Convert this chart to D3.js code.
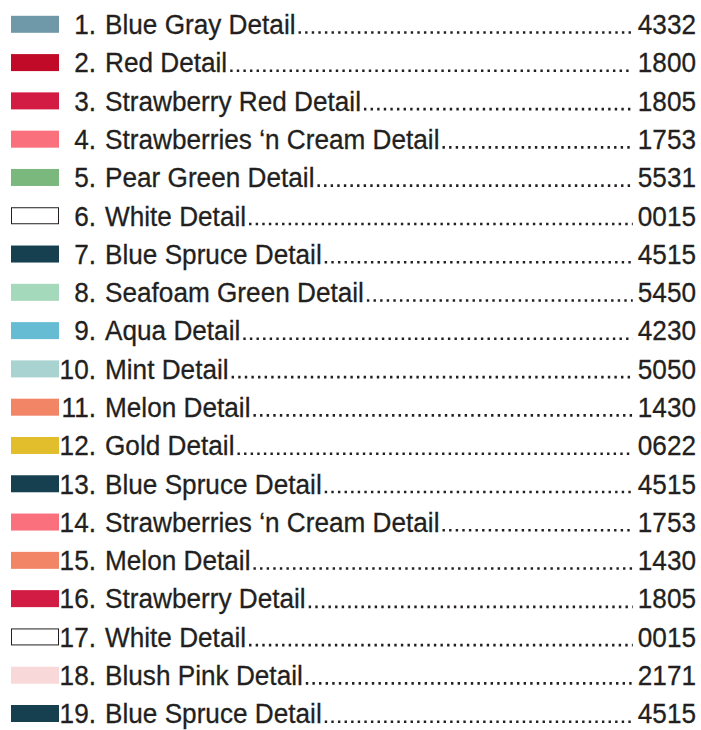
<!DOCTYPE html>
<html>
<head>
<meta charset="utf-8">
<script src="https://cdn.jsdelivr.net/npm/d3@7"></script>
<style>
  body { margin: 0; background: #fff; }
  text { font-family: "Liberation Sans", Arial, sans-serif; fill: #231f20; stroke: #231f20; stroke-width: 0.3px; }
</style>
</head>
<body>
<svg id="chart"></svg>
<script>
// colour key data
const names = [
  'Blue Gray Detail', 'Red Detail', 'Strawberry Red Detail', 'Strawberries \u2018n Cream Detail',
  'Pear Green Detail', 'White Detail', 'Blue Spruce Detail', 'Seafoam Green Detail',
  'Aqua Detail', 'Mint Detail', 'Melon Detail', 'Gold Detail', 'Blue Spruce Detail',
  'Strawberries \u2018n Cream Detail', 'Melon Detail', 'Strawberry Detail', 'White Detail',
  'Blush Pink Detail', 'Blue Spruce Detail'
];
const codes = [
  '4332', '1800', '1805', '1753', '5531', '0015', '4515', '5450', '4230', '5050',
  '1430', '0622', '4515', '1753', '1430', '1805', '0015', '2171', '4515'
];
const colors = [
  '#6f98a8', '#c10a27', '#d31c43', '#fa707d', '#7bb87d', '#ffffff', '#163f4f', '#a4d9bc',
  '#66bdd3', '#a8d3d0', '#f28566', '#e3be2c', '#163f4f', '#fa707d', '#f28566', '#d31c43',
  '#ffffff', '#f8d8d8', '#163f4f'
];

const width = 701, height = 730;
const svg = d3.select('#chart').attr('width', width).attr('height', height);

const rows = names.map((n, i) => ({ num: i + 1, name: n, code: codes[i], color: colors[i] }));

const y = d3.scalePoint()
  .domain(rows.map(d => d.num))
  .range([24.3, 713.5]);

const fontSize = 28, sx = 0.935, base = 9.8;

const g = svg.selectAll('.row')
  .data(rows)
  .enter()
  .append('g')
  .classed('row', true)
  .attr('transform', d => `translate(0,${y(d.num)})`);

g.append('rect')
  .attr('x', d => d.color === '#ffffff' ? 11.5 : 11)
  .attr('y', d => d.color === '#ffffff' ? -8 : -8.5)
  .attr('width', d => d.color === '#ffffff' ? 47 : 48)
  .attr('height', d => d.color === '#ffffff' ? 16 : 17)
  .attr('fill', d => d.color)
  .attr('stroke', d => d.color === '#ffffff' ? '#231f20' : 'none')
  .attr('stroke-width', 1);

function addText(sel, x, anchor, fn) {
  return sel.append('text')
    .attr('transform', `translate(${x},${base}) scale(${sx},1)`)
    .attr('text-anchor', anchor)
    .style('font-size', fontSize + 'px')
    .text(fn);
}

addText(g, 96, 'end', d => d.num + '.');
const label = addText(g, 105, 'start', d => d.name);
const code = addText(g, 696, 'end', d => d.code);

// dotted leaders between label and code
g.each(function(d, i) {
  let lab = label.nodes()[i], cd = code.nodes()[i];
  let x0 = 105 + lab.getComputedTextLength() * sx + 3;
  let x1 = 696 - cd.getComputedTextLength() * sx - 5;
  d3.select(this).append('line')
    .attr('x1', x0).attr('x2', x1)
    .attr('y1', base - 1.6).attr('y2', base - 1.6)
    .attr('stroke', '#231f20')
    .attr('stroke-width', 2.6)
    .attr('stroke-dasharray', '2.4 4.2');
});
</script>
</body>
</html>
